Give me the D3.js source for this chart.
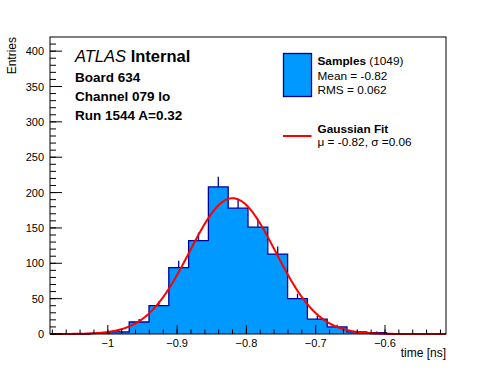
<!DOCTYPE html>
<html>
<head>
<meta charset="UTF-8">
<title>time distribution</title>
<script src="https://d3js.org/d3.v7.min.js"></script>
<style>
    body { margin: 0; background: white; font-family: "Liberation Sans", Arial, sans-serif; }
    svg { display: block; }
</style>
</head>
<body>
<svg width="496" height="372"></svg>
<script>
    // histogram: 20 bins of equal width between xMin and xMax
    const xMin = -1.0834, xMax = -0.5120;
    const counts = [0, 0, 1, 3, 17, 40, 94, 132, 208, 178, 151, 113, 50, 21, 10, 3, 2, 0, 0, 0];
    const xTicks = [-1, -0.9, -0.8, -0.7, -0.6];
    const yTicks = [0, 50, 100, 150, 200, 250, 300, 350, 400];

    // gaussian fit parameters
    const fitMu = -0.82, fitSigma = 0.062, fitAmp = 192;

    const infoLines = ["Board 634", "Channel 079 lo", "Run 1544 A=0.32"];

    const svg = d3.select("svg");
    const frame = {left: 50, right: 446, top: 37, bottom: 334};

    const x = d3.scaleLinear().domain([xMin, xMax]).range([frame.left, frame.right]);
    const y = d3.scaleLinear().domain([0, 420]).range([frame.bottom, frame.top]);

    const binW = (xMax - xMin) / counts.length;
    const steps = counts.map((c, i) => ({ x0: xMin + i * binW, c: c }));
    steps.push({ x0: xMax, c: counts[counts.length - 1] });

    // fill
    svg.append("path")
        .datum(steps)
        .attr("fill", "#0099ff")
        .attr("d", d3.area().curve(d3.curveStepAfter)
            .x(d => x(d.x0)).y0(y(0)).y1(d => y(d.c)));

    // outline
    svg.append("path")
        .datum(steps)
        .attr("fill", "none")
        .attr("stroke", "#000099")
        .attr("stroke-width", 1.3)
        .attr("d", d3.line().curve(d3.curveStepAfter)
            .x(d => x(d.x0)).y(d => y(d.c)));

    // error bars (only the upper half shows above the fill)
    svg.selectAll(".err")
        .data(steps.slice(0, counts.length).filter(d => d.c > 0))
        .enter().append("line")
        .attr("x1", d => x(d.x0 + binW / 2))
        .attr("x2", d => x(d.x0 + binW / 2))
        .attr("y1", d => y(d.c))
        .attr("y2", d => y(d.c + Math.sqrt(d.c)))
        .attr("stroke", "#000099")
        .attr("stroke-width", 1.3);

    // fit curve
    const fitX = d3.range(0, 401).map(i => xMin + (xMax - xMin) * i / 400);
    svg.append("path")
        .datum(fitX)
        .attr("fill", "none")
        .attr("stroke", "#ff0000")
        .attr("stroke-width", 2)
        .attr("d", d3.line()
            .x(v => x(v))
            .y(v => y(fitAmp * Math.exp(-0.5 * Math.pow((v - fitMu) / fitSigma, 2)))));

    // frame
    svg.append("rect")
        .attr("x", frame.left).attr("y", frame.top)
        .attr("width", frame.right - frame.left).attr("height", frame.bottom - frame.top)
        .attr("fill", "none").attr("stroke", "black").attr("stroke-width", 1);

    // x ticks
    const xMinor = d3.range(Math.ceil(xMin / 0.02), Math.floor(xMax / 0.02) + 1).map(k => k * 0.02);
    svg.selectAll(".xminor")
        .data(xMinor).enter().append("line")
        .attr("x1", d => x(d)).attr("x2", d => x(d))
        .attr("y1", frame.bottom).attr("y2", frame.bottom - 4.5)
        .attr("stroke", "black");
    svg.selectAll(".xmajor")
        .data(xTicks).enter().append("line")
        .attr("x1", d => x(d)).attr("x2", d => x(d))
        .attr("y1", frame.bottom).attr("y2", frame.bottom - 9)
        .attr("stroke", "black");
    svg.selectAll(".xlab")
        .data(xTicks).enter().append("text")
        .attr("x", d => x(d)).attr("y", 347)
        .attr("text-anchor", "middle")
        .attr("font-size", "11px")
        .text(d => d3.format("")(d).replace("-", "\u2212"));

    // y ticks
    svg.selectAll(".yminor")
        .data(d3.range(0, 420, 10)).enter().append("line")
        .attr("x1", frame.left).attr("x2", frame.left + 6)
        .attr("y1", d => y(d)).attr("y2", d => y(d))
        .attr("stroke", "black");
    svg.selectAll(".ymajor")
        .data(yTicks).enter().append("line")
        .attr("x1", frame.left).attr("x2", frame.left + 12)
        .attr("y1", d => y(d)).attr("y2", d => y(d))
        .attr("stroke", "black");
    svg.selectAll(".ylab")
        .data(yTicks).enter().append("text")
        .attr("x", 44).attr("y", d => y(d) + 4)
        .attr("text-anchor", "end")
        .attr("font-size", "11px")
        .text(d => d);

    // axis titles
    svg.append("text")
        .attr("x", 446).attr("y", 357)
        .attr("text-anchor", "end")
        .attr("font-size", "12px")
        .text("time [ns]");
    svg.append("text")
        .attr("transform", "translate(16,37) rotate(-90)")
        .attr("text-anchor", "end")
        .attr("font-size", "12px")
        .text("Entries");

    // ATLAS label
    const atlas = svg.append("text")
        .attr("x", 75).attr("y", 62)
        .attr("font-size", "16.5px");
    atlas.append("tspan").attr("font-style", "italic").text("ATLAS");
    atlas.append("tspan").attr("font-weight", "bold").text(" Internal");

    svg.selectAll(".info")
        .data(infoLines).enter().append("text")
        .attr("x", 75).attr("y", (d, i) => 82 + i * 19)
        .attr("font-size", "13.5px")
        .attr("font-weight", "bold")
        .text(d => d);

    // legend
    svg.append("rect")
        .attr("x", 283.5).attr("y", 53.5).attr("width", 28).attr("height", 43)
        .attr("fill", "#0099ff").attr("stroke", "#000099").attr("stroke-width", 1.3);
    const l1 = svg.append("text").attr("x", 317.5).attr("y", 65).attr("font-size", "11.8px");
    l1.append("tspan").attr("font-weight", "bold").text("Samples");
    l1.append("tspan").text(" (1049)");
    svg.append("text").attr("x", 317.5).attr("y", 79.5).attr("font-size", "11.8px").text("Mean = -0.82");
    svg.append("text").attr("x", 317.5).attr("y", 93.5).attr("font-size", "11.8px").text("RMS = 0.062");

    svg.append("line")
        .attr("x1", 283).attr("x2", 311.5).attr("y1", 136).attr("y2", 136)
        .attr("stroke", "#ff0000").attr("stroke-width", 2);
    svg.append("text").attr("x", 317.5).attr("y", 132.5).attr("font-size", "11.8px")
        .attr("font-weight", "bold").text("Gaussian Fit");
    svg.append("text").attr("x", 317.5).attr("y", 145.5).attr("font-size", "11.8px")
        .text("\u03bc = -0.82, \u03c3 =0.06");
</script>
</body>
</html>
